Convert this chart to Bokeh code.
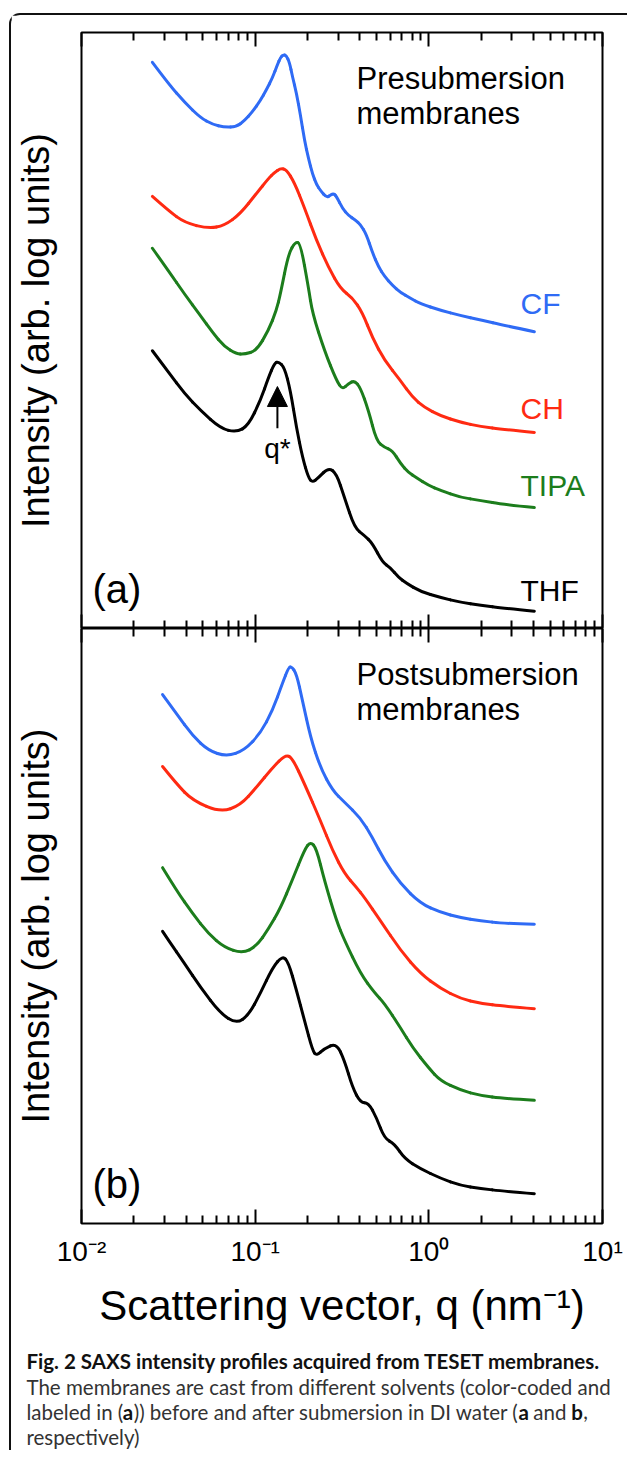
import math
from bokeh.plotting import figure
from bokeh.models import (Range1d, LogAxis, FixedTicker, CustomJSTickFormatter,
                          Arrow, NormalHead)
from bokeh.layouts import column
from bokeh.embed import file_html
from bokeh.resources import INLINE
from bokeh.core.properties import value

FIG_FONT = "Liberation Sans"
CAP_FONT = "Lato"

SOLVENTS = ["CF", "CH", "TIPA", "THF"]
COLORS = ["#2f6bf5", "#ff2a12", "#1c7d1c", "#000000"]

# ---------------- panel (a): presubmersion membranes ----------------
Q_CF_A = [0.0256, 0.0317, 0.0392, 0.0484, 0.0567, 0.0665, 0.0780, 0.0867, 0.0964, 0.1073,
          0.1161, 0.1258, 0.1343, 0.1399, 0.1455, 0.1513, 0.1576, 0.164, 0.1729, 0.1824,
          0.1923, 0.2027, 0.2138, 0.2255, 0.2377, 0.2573, 0.2714, 0.2825, 0.2938, 0.3181,
          0.3443, 0.378, 0.4038, 0.4373, 0.473, 0.513, 0.5552, 0.616, 0.6864, 0.783,
          0.8946, 1.166, 1.52, 1.982, 2.76, 4.05]
I_CF_A = [95.0, 91.4, 88.3, 85.7, 84.6, 84.1, 84.2, 85.2, 86.7, 88.6,
          90.4, 92.4, 94.6, 95.8, 96.3, 96.1, 95.0, 92.6, 89.8, 86.1,
          81.9, 78.9, 76.3, 74.5, 73.5, 72.3, 72.7, 73.0, 72.5, 70.5,
          69.3, 68.5, 67.8, 66.1, 63.1, 60.7, 59.1, 57.6, 56.4, 55.4,
          54.5, 53.4, 52.5, 51.8, 50.8, 49.8]

Q_CH_A = [0.0256, 0.0317, 0.0392, 0.0538, 0.0665, 0.0823, 0.1017, 0.1193, 0.1291, 0.1399,
          0.1513, 0.1684, 0.1923, 0.2255, 0.2642, 0.3097, 0.3632, 0.4147, 0.473, 0.5552,
          0.6864, 0.8045, 0.9434, 1.166, 1.52, 1.982, 2.72, 4.05]
I_CH_A = [72.5, 70.1, 68.1, 67.1, 67.6, 69.6, 73.0, 75.5, 76.5, 77.2,
          77.0, 74.8, 70.6, 65.1, 60.6, 57.0, 55.5, 53.0, 48.8, 45.0,
          41.6, 38.8, 37.1, 35.7, 34.6, 33.9, 33.4, 32.9]

Q_TIPA_A = [0.0256, 0.0317, 0.0392, 0.0484, 0.0567, 0.0665, 0.0780, 0.0867, 0.1017, 0.1193,
            0.1326, 0.1399, 0.1555, 0.1706, 0.1824, 0.2027, 0.2138, 0.2506, 0.2938, 0.3181,
            0.3443, 0.3730, 0.4038, 0.4491, 0.4993, 0.5552, 0.616, 0.6864, 0.7629, 0.8483,
            0.9947, 1.166, 1.52, 1.982, 2.72, 4.05]
I_TIPA_A = [63.8, 60.0, 56.1, 52.5, 49.7, 47.3, 46.1, 46.0, 46.6, 50.0,
            53.4, 56.2, 62.9, 64.9, 64.6, 57.2, 52.9, 46.6, 41.6, 40.1,
            41.1, 41.6, 40.4, 36.6, 31.5, 30.4, 29.9, 27.7, 26.2, 25.3,
            24.0, 23.2, 22.0, 21.5, 20.8, 20.3]

Q_THF_A = [0.0256, 0.0317, 0.0392, 0.0484, 0.0631, 0.0780, 0.0915, 0.1073, 0.1193, 0.1291,
           0.1362, 0.1475, 0.1597, 0.1729, 0.1873, 0.2027, 0.2138, 0.2314, 0.2642, 0.2938,
           0.3267, 0.3730, 0.4258, 0.473, 0.5407, 0.601, 0.6683, 0.7430, 0.8946, 1.166,
           1.52, 1.982, 2.72, 4.05]
I_THF_A = [46.6, 43.0, 39.4, 36.6, 33.6, 32.9, 34.1, 38.3, 42.1, 44.5,
           44.8, 43.8, 39.9, 33.7, 28.7, 25.3, 24.5, 25.3, 27.0, 26.0,
           22.0, 16.9, 15.6, 14.3, 11.1, 10.2, 8.6, 7.6, 6.2, 5.2,
           4.4, 3.9, 3.4, 2.9]

# ---------------- panel (b): postsubmersion membranes ----------------
Q_CF_B = [0.0293, 0.0352, 0.0436, 0.0538, 0.0684, 0.0867, 0.1073, 0.1258, 0.1436, 0.1555,
          0.1618, 0.1729, 0.1873, 0.2082, 0.2377, 0.2786, 0.3267, 0.4038, 0.473, 0.5552,
          0.6864, 0.8946, 1.166, 1.52, 1.982, 2.72, 4.05]
I_CF_B = [88.9, 85.7, 82.0, 79.5, 78.5, 79.5, 82.4, 86.2, 90.8, 93.4,
          93.6, 92.4, 87.9, 81.7, 76.6, 72.8, 70.8, 68.2, 64.9, 61.0,
          57.1, 53.8, 52.3, 51.4, 50.9, 50.4, 50.3]

Q_CH_B = [0.0293, 0.0352, 0.0436, 0.0631, 0.0823, 0.1017, 0.1258, 0.1494, 0.164, 0.1923,
          0.2377, 0.2786, 0.3267, 0.383, 0.4258, 0.5265, 0.6864, 0.8946, 1.166, 1.52,
          1.982, 2.72, 4.05]
I_CH_B = [76.8, 73.9, 71.1, 69.1, 70.3, 73.3, 76.6, 78.8, 78.2, 73.9,
          67.7, 62.7, 58.8, 56.5, 54.8, 50.9, 45.9, 42.0, 39.5, 37.8,
          37.0, 36.5, 36.1]

Q_TIPA_B = [0.0293, 0.0352, 0.0436, 0.0538, 0.0665, 0.0845, 0.1017, 0.1193, 0.1399, 0.164,
            0.1923, 0.2082, 0.2255, 0.2506, 0.2938, 0.3267, 0.4038, 0.4862, 0.5552, 0.6864,
            0.8045, 0.9947, 1.166, 1.52, 1.982, 2.72, 4.05]
I_TIPA_B = [59.8, 56.0, 52.1, 48.7, 46.4, 45.4, 46.6, 49.5, 53.0, 57.8,
            62.8, 64.2, 63.0, 57.6, 50.9, 47.6, 42.0, 38.8, 37.0, 32.9,
            29.6, 26.2, 24.0, 22.4, 21.5, 21.0, 20.7]

Q_THF_B = [0.0293, 0.0317, 0.0392, 0.0484, 0.0631, 0.0780, 0.0915, 0.1073, 0.1258, 0.1436,
           0.1555, 0.1729, 0.1923, 0.2138, 0.2255, 0.2506, 0.2938, 0.3267, 0.3632, 0.4038,
           0.4491, 0.4993, 0.5552, 0.634, 0.7240, 0.8946, 1.166, 1.52, 1.982, 2.72, 4.05]
I_THF_B = [49.1, 47.6, 43.7, 39.7, 35.3, 33.6, 35.0, 38.7, 43.0, 45.0,
           43.9, 39.2, 34.1, 29.1, 28.2, 29.4, 30.3, 27.4, 22.9, 20.3,
           20.3, 17.8, 14.3, 13.4, 10.9, 9.2, 7.6, 6.4, 5.9, 5.4, 5.0]

# ---------------- axes / text ----------------
XTICKS = [0.01, 0.1, 1, 10]
XTICK_LABELS = ["10\u207b\u00b2", "10\u207b\u00b9", "10\u2070", "10\u00b9"]
MINOR_TICKS = [m * d for d in (0.01, 0.1, 1) for m in range(2, 10)]
X_LABEL = "Scattering vector, q (nm\u207b\u00b9)"
Y_LABEL = "Intensity (arb. log units)"
PANEL_TITLES = [["Presubmersion", "membranes"], ["Postsubmersion", "membranes"]]
PANEL_TAGS = ["(a)", "(b)"]
LABEL_Y_A = [54.5, 36.9, 24.0, 6.4]
QSTAR = 0.1343
QSTAR_LABEL = "q*"

CAPTION_TITLE = "Fig. 2 SAXS intensity profiles acquired from TESET membranes."
CAPTION_L1 = "The membranes are cast from different solvents (color-coded and"
CAPTION_L2 = ["labeled in (", "a", ")) before and after submersion in DI water (", "a", "and", "b", ","]
CAPTION_L2_BOLD = [False, True, False, True, False, True, False]
CAPTION_L3 = "respectively)"


def style_xaxis(ax, show_labels):
    ax.ticker = FixedTicker(ticks=XTICKS, minor_ticks=MINOR_TICKS)
    ax.major_tick_in = 14
    ax.major_tick_out = 0
    ax.minor_tick_in = 8
    ax.minor_tick_out = 0
    ax.major_tick_line_width = 2
    ax.minor_tick_line_width = 2
    ax.major_tick_line_color = "black"
    ax.minor_tick_line_color = "black"
    ax.axis_line_color = None
    if show_labels:
        ax.formatter = CustomJSTickFormatter(
            args=dict(xt=XTICKS, xl=XTICK_LABELS),
            code="""
            for (let k = 0; k < xt.length; k++) {
                if (Math.abs(Math.log10(xt[k]) - Math.log10(tick)) < 1e-6) return xl[k];
            }
            return '';
            """)
        ax.major_label_text_font = FIG_FONT
        ax.major_label_text_font_size = "28px"
        ax.major_label_text_color = "black"
        ax.major_label_standoff = 12
        ax.axis_label = X_LABEL
        ax.axis_label_text_font = FIG_FONT
        ax.axis_label_text_font_size = "42px"
        ax.axis_label_text_font_style = "normal"
        ax.axis_label_text_color = "black"
        ax.axis_label_standoff = 12
    else:
        ax.formatter = CustomJSTickFormatter(code="return '';")
        ax.major_label_text_font_size = "0px"
        ax.major_label_standoff = 0


def smooth_line(p, q, inten, color):
    """Draw the measured points as a chain of quadratic Bezier pieces
    (control = measured point), so the profile is drawn smoothly."""
    n = len(q)
    lq = [math.log10(v) for v in q]
    x0, y0, x1, y1, cx, cy = [], [], [], [], [], []
    sx, sy = q[0], inten[0]
    for k in range(1, n - 1):
        if k == n - 2:
            ex, ey = q[n - 1], inten[n - 1]
        else:
            ex = 10 ** ((lq[k] + lq[k + 1]) / 2)
            ey = (inten[k] + inten[k + 1]) / 2
        x0.append(sx); y0.append(sy)
        cx.append(q[k]); cy.append(inten[k])
        x1.append(ex); y1.append(ey)
        sx, sy = ex, ey
    p.quadratic(x0=x0, y0=y0, x1=x1, y1=y1, cx=cx, cy=cy,
                line_color=color, line_width=3, line_cap="round")


def make_panel(frame_h, top, bottom, last, curves, title, tag):
    p = figure(x_axis_type="log", x_range=Range1d(0.01, 10), y_range=Range1d(0, 100),
               frame_width=521, frame_height=frame_h,
               min_border_left=70, min_border_right=25,
               min_border_top=top, min_border_bottom=bottom,
               output_backend="svg", toolbar_location=None)
    p.grid.visible = False
    p.background_fill_color = "white"
    p.border_fill_color = "white"
    p.outline_line_color = "black"
    p.outline_line_width = 2
    p.outline_line_alpha = 1.0

    above = LogAxis()
    p.add_layout(above, "above")
    style_xaxis(p.below[0], last)
    style_xaxis(above, False)

    ya = p.left[0]
    ya.ticker = FixedTicker(ticks=[])
    ya.axis_line_color = None
    ya.major_tick_line_color = None
    ya.minor_tick_line_color = None
    ya.major_label_text_font_size = "0px"
    ya.axis_label = Y_LABEL
    ya.axis_label_text_font = FIG_FONT
    ya.axis_label_text_font_size = "38px"
    ya.axis_label_text_font_style = "normal"
    ya.axis_label_text_color = "black"
    ya.axis_label_standoff = 25

    for (q, i), c in zip(curves, COLORS):
        smooth_line(p, q, i, c)

    p.text(x=[0.383, 0.383], y=[92.3, 86.4], text=title,
           text_font=value(FIG_FONT), text_font_size="31px", text_color="black",
           text_align="left", text_baseline="middle")
    p.text(x=[0.01157], y=[6.7], text=[tag],
           text_font=value(FIG_FONT), text_font_size="40px", text_color="black",
           text_align="left", text_baseline="middle")
    return p


pa = make_panel(596, 17, 0, False,
                [(Q_CF_A, I_CF_A), (Q_CH_A, I_CH_A), (Q_TIPA_A, I_TIPA_A), (Q_THF_A, I_THF_A)],
                PANEL_TITLES[0], PANEL_TAGS[0])
pa.text(x=[3.37] * 4, y=LABEL_Y_A, text=SOLVENTS, text_color=COLORS,
        text_font=value(FIG_FONT), text_font_size="30px",
        text_align="left", text_baseline="middle")
pa.add_layout(Arrow(end=NormalHead(size=20, fill_color="black", line_color="black", line_width=1),
                    x_start=QSTAR, y_start=33.6, x_end=QSTAR, y_end=40.6,
                    line_color="black", line_width=2))
pa.text(x=[QSTAR], y=[30.2], text=[QSTAR_LABEL], text_font=value(FIG_FONT),
        text_font_size="28px", text_color="black", text_align="center", text_baseline="middle")

pb = make_panel(595, 0, 112, True,
                [(Q_CF_B, I_CF_B), (Q_CH_B, I_CH_B), (Q_TIPA_B, I_TIPA_B), (Q_THF_B, I_THF_B)],
                PANEL_TITLES[1], PANEL_TAGS[1])

# ---------------- caption ----------------
CAP_W = 616
CAP_H = 115
pc = figure(width=CAP_W, height=CAP_H, x_range=Range1d(0, CAP_W), y_range=Range1d(CAP_H, 0),
            x_axis_location=None, y_axis_location=None, min_border=0,
            output_backend="svg", toolbar_location=None)
pc.frame_align = False
pc.grid.visible = False
pc.outline_line_color = None
pc.background_fill_color = "white"
pc.border_fill_color = "white"

CAP_SIZE = 20.5
x0 = 15
pc.text(x=[x0], y=[25], text=[CAPTION_TITLE], text_font=value(CAP_FONT),
        text_font_style="bold", text_font_size=f"{CAP_SIZE}px", text_color="#111111",
        text_align="left", text_baseline="alphabetic")
pc.text(x=[x0, x0], y=[51, 101], text=[CAPTION_L1, CAPTION_L3], text_font=value(CAP_FONT),
        text_font_size=f"{CAP_SIZE}px", text_color="#333333",
        text_align="left", text_baseline="alphabetic")
# approximate widths (em) of the pieces of the third caption line, to place the bold letters
piece_em = [4.62, 0.53, 18.30, 0.53, 1.63, 0.58, 0.21]
gap_em = [0, 0, 0, 0.19, 0.19, 0.19, 0]
xs = []
cur = x0
for w, g in zip(piece_em, gap_em):
    cur += g * CAP_SIZE * 1.015
    xs.append(cur)
    cur += w * CAP_SIZE * 1.015
for xp, t, b in zip(xs, CAPTION_L2, CAPTION_L2_BOLD):
    pc.text(x=[xp], y=[76], text=[t], text_font=value(CAP_FONT),
            text_font_style="bold" if b else "normal", text_font_size=f"{CAP_SIZE}px",
            text_color="#111111" if b else "#333333",
            text_align="left", text_baseline="alphabetic")

layout = column(pa, pb, pc, spacing=0,
                styles={"margin-left": "9px", "margin-top": "13px",
                        "border-left": "2px solid #111", "border-top": "2px solid #111",
                        "border-top-left-radius": "11px"})

open("out.html", "w").write(file_html(layout, INLINE, title="SAXS"))
